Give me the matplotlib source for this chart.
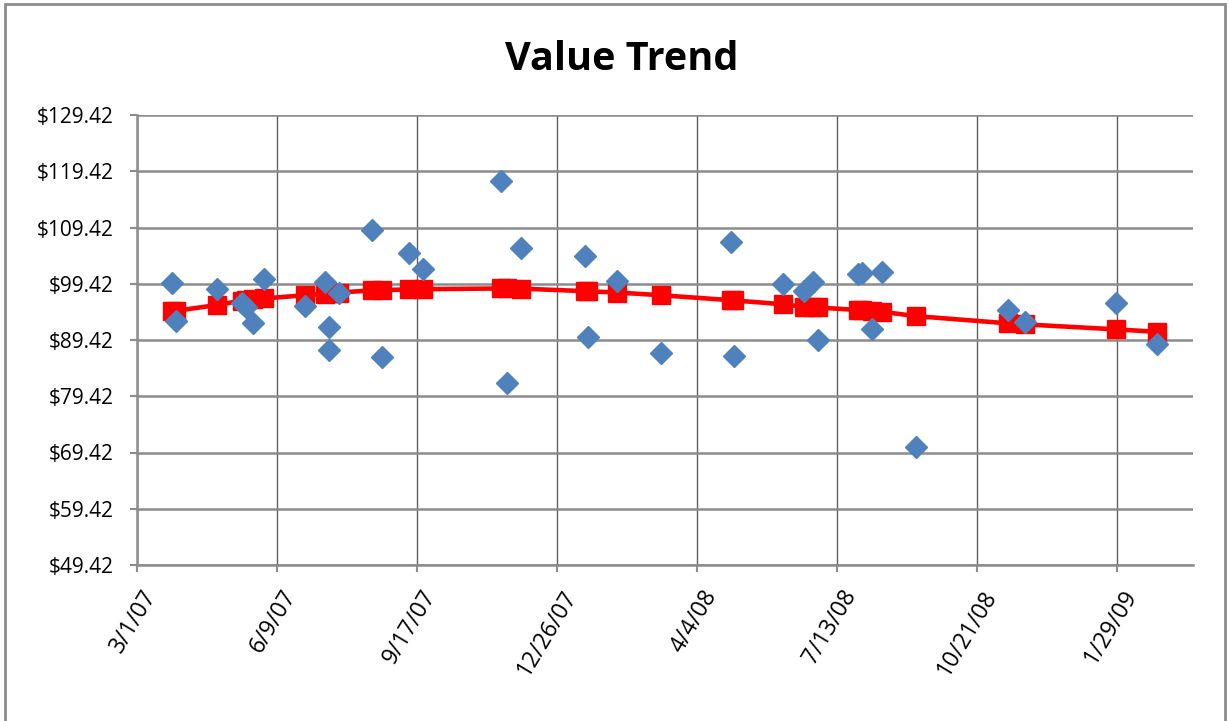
import matplotlib
matplotlib.use("Agg")
import matplotlib.pyplot as plt
import matplotlib.dates as mdates
import matplotlib.transforms as mtransforms
import numpy as np
import datetime as dt
from matplotlib.patches import Rectangle

start = dt.date(2007, 3, 1)
day_offsets = [25, 28, 57, 75, 78, 83, 91, 120, 134, 137, 137, 144, 168, 175, 194, 204,
               260, 264, 274, 320, 322, 343, 374, 424, 426, 461, 476, 483, 486, 515, 518,
               525, 532, 556, 622, 634, 699, 728]
values = [99.61, 92.80, 98.49, 96.05, 95.34, 92.50, 100.21, 95.46, 99.79, 91.66, 87.64,
          97.72, 108.98, 86.34, 104.94, 101.99, 117.74, 81.72, 105.82, 104.35, 90.00,
          99.96, 87.16, 106.84, 86.58, 99.32, 98.22, 99.78, 89.42, 101.10, 101.28, 91.32,
          101.46, 70.45, 94.75, 92.57, 96.05, 88.71]
trend = [94.66, 94.61, 95.64, 96.42, 96.51, 96.69, 96.81, 97.38, 97.68, 97.74, 97.74,
         97.86, 98.24, 98.31, 98.40, 98.46, 98.58, 98.58, 98.56, 98.10, 98.08, 97.86,
         97.38, 96.50, 96.46, 95.78, 95.34, 95.25, 95.20, 94.75, 94.69, 94.56, 94.44,
         93.67, 92.38, 92.20, 91.31, 90.88]
y_ticks = [49.42, 59.42, 69.42, 79.42, 89.42, 99.42, 109.42, 119.42, 129.42]
x_tick_offsets = [0, 100, 200, 300, 400, 500, 600, 700]
x_max_offset = 754

dates = [start + dt.timedelta(days=d) for d in day_offsets]
xticks = [start + dt.timedelta(days=d) for d in x_tick_offsets]

plt.rcParams['font.family'] = ['Open Sans', 'DejaVu Sans']

fig = plt.figure(figsize=(12.3, 7.21), dpi=100)
ax = fig.add_axes([137/1230, 1-565/721, (1193-137)/1230, (565-115)/721])

ax.plot(dates, trend, color='#FF0000', lw=3.3, marker='s', markersize=13.5,
        markeredgecolor='#FF0000', zorder=3)
ax.plot(dates, values, linestyle='none', marker='D', markersize=11,
        color='#4F81BD', markeredgecolor='#4F81BD', zorder=4)

ax.set_xlim(start, start + dt.timedelta(days=x_max_offset))
ax.set_ylim(49.42, 129.42)
ax.set_yticks(y_ticks)
ax.set_yticklabels([f"${v:.2f}" for v in y_ticks])
ax.set_xticks(xticks)
ax.xaxis.set_major_formatter(mdates.DateFormatter('%-m/%-d/%y'))

ax.yaxis.grid(True, color='#8C8C8C', lw=1.8)
ax.xaxis.grid(True, color='#5E5E5E', lw=1.0)
ax.set_axisbelow(True)
for s in ['top', 'right']:
    ax.spines[s].set_visible(False)
for s in ['left', 'bottom']:
    ax.spines[s].set_color('#8C8C8C')
    ax.spines[s].set_linewidth(1.8)
ax.tick_params(axis='both', colors='#8C8C8C', labelcolor='black',
               length=5, width=1.5)
ax.tick_params(axis='y', pad=12, labelsize=15)
ax.tick_params(axis='x', pad=10, labelsize=16.5)

offset = mtransforms.ScaledTranslation(4/100, 0, fig.dpi_scale_trans)
for lbl in ax.get_xticklabels():
    lbl.set_rotation(59)
    lbl.set_ha('right')
    lbl.set_va('top')
    lbl.set_rotation_mode('anchor')
    lbl.set_transform(lbl.get_transform() + offset)

fig.text(622/1230, 1-70/721, 'Value Trend', ha='center', va='baseline',
         fontsize=28.5, fontweight='bold')

fig.patches.append(Rectangle((5/1230, -0.01), 1220/1230, 1-4/721+0.01,
                             transform=fig.transFigure, fill=False,
                             edgecolor='#8C8C8C', lw=2))

fig.savefig('out.png', dpi=100)
